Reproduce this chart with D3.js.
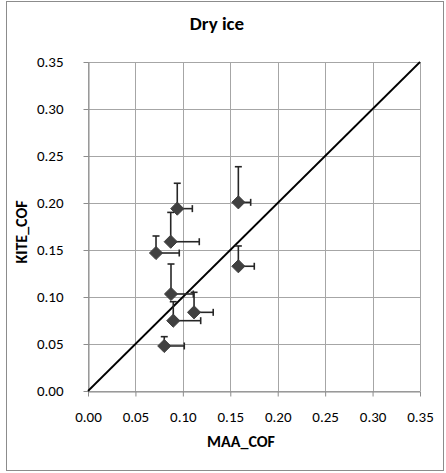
<!DOCTYPE html>
<html>
<head>
<meta charset="utf-8">
<script src="https://cdn.jsdelivr.net/npm/d3@7"></script>
<style>
  html, body { margin: 0; padding: 0; background: #fff; }
  svg { display: block; font-family: Calibri, Carlito, Lato, "Open Sans", sans-serif; }
</style>
</head>
<body>
<svg id="chart" width="446" height="473"></svg>
<script>
// MAA vs KITE coefficient of friction, dry ice condition
const maaCof  = [0.0941, 0.1585, 0.0872, 0.0717, 0.1585, 0.0875, 0.1118, 0.0899, 0.0804];
const kiteCof = [0.1940, 0.2007, 0.1588, 0.1468, 0.1327, 0.1032, 0.0837, 0.0748, 0.0479];
// positive error amounts (only the plus direction is drawn)
const maaErr  = [0.0159, 0.0130, 0.0301, 0.0245, 0.0168, 0.0235, 0.0202, 0.0289, 0.0211];
const kiteErr = [0.0270, 0.0379, 0.0312, 0.0181, 0.0216, 0.0319, 0.0213, 0.0202, 0.0099];
const tickValues = [0, 0.05, 0.10, 0.15, 0.20, 0.25, 0.30, 0.35];
const identityLine = [0, 0.35];

const svg = d3.select("#chart");
const plot = { left: 88, right: 420, top: 62, bottom: 391 };

const x = d3.scaleLinear().domain([0, 0.35]).range([plot.left, plot.right]);
const y = d3.scaleLinear().domain([0, 0.35]).range([plot.bottom, plot.top]);

// outer chart frame
svg.append("rect")
  .attr("x", 6.5).attr("y", 1.5).attr("width", 437).attr("height", 469)
  .attr("fill", "#fff").attr("stroke", "#8c8c8c").attr("stroke-width", 1);

// gridlines
const grid = svg.append("g").attr("stroke", "#a6a6a6").attr("stroke-width", 1);
grid.selectAll("line.v").data(tickValues).join("line")
  .attr("x1", d => Math.round(x(d)) + 0.5).attr("x2", d => Math.round(x(d)) + 0.5)
  .attr("y1", plot.top).attr("y2", plot.bottom);
grid.selectAll("line.h").data(tickValues).join("line")
  .attr("y1", d => Math.round(y(d)) + 0.5).attr("y2", d => Math.round(y(d)) + 0.5)
  .attr("x1", plot.left).attr("x2", plot.right);

// axes
const fmt = d3.format(".2f");
const xAxis = svg.append("g")
  .attr("transform", `translate(0,${Math.round(y(0)) + 0.5})`)
  .call(d3.axisBottom(x).tickValues(tickValues).tickFormat(fmt).tickSize(5).tickSizeOuter(0).tickPadding(15));
const yAxis = svg.append("g")
  .attr("transform", `translate(${Math.round(x(0)) + 0.5},0)`)
  .call(d3.axisLeft(y).tickValues(tickValues).tickFormat(fmt).tickSize(5).tickSizeOuter(0).tickPadding(20));
[xAxis, yAxis].forEach(a => {
  a.select(".domain").attr("stroke", "#8c8c8c");
  a.selectAll(".tick line").attr("stroke", "#8c8c8c");
  a.selectAll(".tick text").attr("fill", "#000").style("font-size", "15px")
    .style("font-family", "Calibri, Carlito, Lato, 'Open Sans', sans-serif");
});

// y = x reference line
svg.append("line")
  .attr("x1", x(identityLine[0])).attr("y1", y(identityLine[0]))
  .attr("x2", x(identityLine[1])).attr("y2", y(identityLine[1]))
  .attr("stroke", "#000").attr("stroke-width", 1.8);

const pts = maaCof.map((v, i) => ({ mx: v, ky: kiteCof[i], ex: maaErr[i], ey: kiteErr[i] }));
const cap = 3.5;
const errG = svg.append("g").attr("stroke", "#262626").attr("stroke-width", 1.6);

// vertical (plus) error bars
errG.selectAll("line.ey").data(pts).join("line")
  .attr("x1", d => x(d.mx)).attr("x2", d => x(d.mx))
  .attr("y1", d => y(d.ky)).attr("y2", d => y(d.ky + d.ey));
errG.selectAll("line.eyc").data(pts).join("line")
  .attr("x1", d => x(d.mx) - cap).attr("x2", d => x(d.mx) + cap)
  .attr("y1", d => y(d.ky + d.ey)).attr("y2", d => y(d.ky + d.ey));

// horizontal (plus) error bars
errG.selectAll("line.ex").data(pts).join("line")
  .attr("y1", d => y(d.ky)).attr("y2", d => y(d.ky))
  .attr("x1", d => x(d.mx)).attr("x2", d => x(d.mx + d.ex));
errG.selectAll("line.exc").data(pts).join("line")
  .attr("y1", d => y(d.ky) - cap).attr("y2", d => y(d.ky) + cap)
  .attr("x1", d => x(d.mx + d.ex)).attr("x2", d => x(d.mx + d.ex));

// diamond markers
const diamond = d3.symbol().type(d3.symbolDiamond2).size(110);
svg.append("g").selectAll("path").data(pts).join("path")
  .attr("d", diamond)
  .attr("transform", d => `translate(${x(d.mx)},${y(d.ky)})`)
  .attr("fill", "#404040").attr("stroke", "#404040").attr("stroke-width", 1);

// titles
svg.append("text").attr("x", 217).attr("y", 30).attr("text-anchor", "middle")
  .style("font-size", "19px").style("font-weight", "bold").text("Dry ice");
svg.append("text").attr("x", 241).attr("y", 447).attr("text-anchor", "middle")
  .style("font-size", "16px").style("font-weight", "bold").text("MAA_COF");
svg.append("text").attr("transform", "translate(27,232) rotate(-90)").attr("text-anchor", "middle")
  .style("font-size", "16px").style("font-weight", "bold").text("KITE_COF");
</script>
</body>
</html>
